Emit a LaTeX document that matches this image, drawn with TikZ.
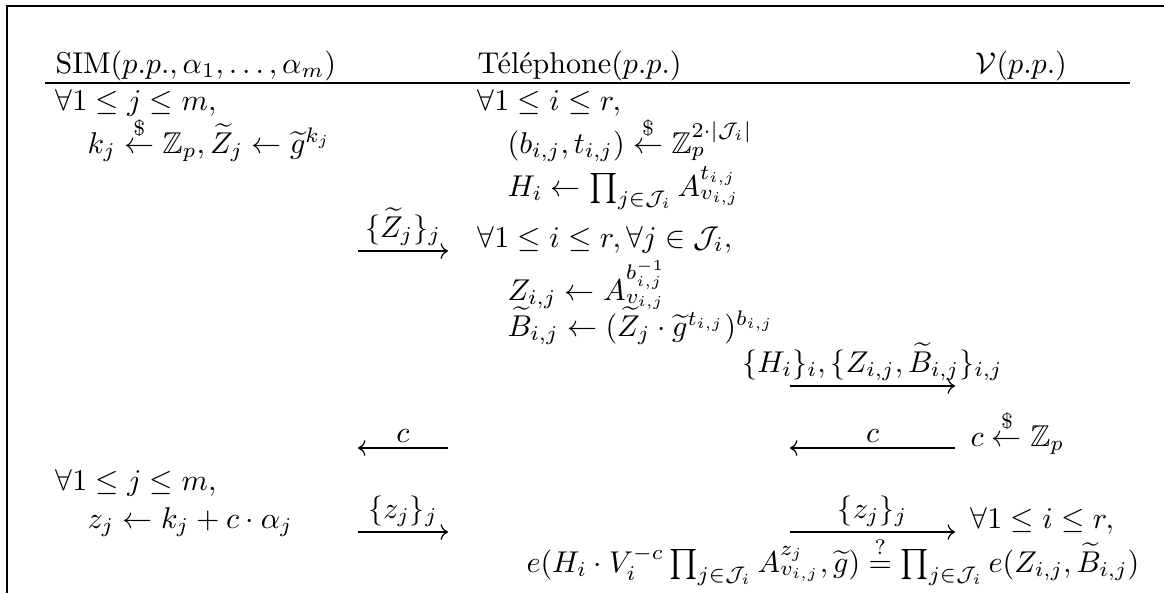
\documentclass[tikz,border=0pt]{standalone}
\usepackage{amsmath}
\usepackage{amssymb}
\usetikzlibrary{arrows.meta}

\tikzset{
    txt/.style={anchor=base west, inner sep=0pt},
    msg/.style={line width=0.4pt, arrows={-Computer Modern Rightarrow}},
    lbl/.style={above, inner sep=1.5pt},
}

\begin{document}
\begin{tikzpicture}[x=0.3325pt, y=-0.3325pt]
    \pgfmathsetmacro{\xs}{55}   % SIM column
    \pgfmathsetmacro{\xt}{477}  % phone column
    \pgfmathsetmacro{\xv}{970}  % verifier column
    \pgfmathsetmacro{\ind}{32}  % indent of the lines under a "for all"
    \useasboundingbox (0,0) rectangle (1164,593);

    % Frame and header rule
    \draw[line width=0.5pt] (7,593) -- (7,6) -- (1164,6);
    \draw[line width=0.4pt] (45,83) -- (1130,83);

    % Header
    \node[txt] (hsim) at ({\xs}, {73}) {$\mathrm{SIM}(p.p., \alpha_1, \ldots, \alpha_m)$};
    \node[txt] (htel) at ({\xt}, {73}) {Téléphone$(p.p.)$};
    \node[txt] (hver) at ({\xv+5}, {73}) {$\mathcal{V}(p.p.)$};

    % SIM
    \node[txt] (s1) at ({\xs}, {110}) {$\forall 1 \le j \le m,$};
    \node[txt] (s2) at ({\xs+\ind}, {153}) {$k_j \overset{\$}{\leftarrow} \mathbb{Z}_p, \widetilde{Z}_j \leftarrow \widetilde{g}^{k_j}$};
    \node[txt] (s3) at ({\xs}, {490}) {$\forall 1 \le j \le m,$};
    \node[txt] (s4) at ({\xs+\ind}, {528}) {$z_j \leftarrow k_j + c \cdot \alpha_j$};

    % Phone
    \node[txt] (t1) at ({\xt}, {110}) {$\forall 1 \le i \le r,$};
    \node[txt] (t2) at ({\xt+30}, {153}) {$(b_{i,j}, t_{i,j}) \overset{\$}{\leftarrow} \mathbb{Z}_p^{2\cdot|\mathcal{J}_i|}$};
    \node[txt] (t3) at ({\xt+30}, {196}) {$H_i \leftarrow \prod_{j\in\mathcal{J}_i} A_{v_{i,j}}^{t_{i,j}}$};
    \node[txt] (t4) at ({\xt}, {247}) {$\forall 1 \le i \le r, \forall j \in \mathcal{J}_i,$};
    \node[txt] (t5) at ({\xt+30}, {300}) {$Z_{i,j} \leftarrow A_{v_{i,j}}^{b_{i,j}^{-1}}$};
    \node[txt] (t6) at ({\xt+30}, {336}) {$\widetilde{B}_{i,j} \leftarrow (\widetilde{Z}_j \cdot \widetilde{g}^{t_{i,j}})^{b_{i,j}}$};

    % Verifier
    \node[txt] (v1) at ({\xv}, {446}) {$c \overset{\$}{\leftarrow} \mathbb{Z}_p$};
    \node[txt] (v2) at ({\xv}, {528}) {$\forall 1 \le i \le r,$};
    \node[anchor=base east, inner sep=0pt] (v3) at ({1140}, {572})
        {$e(H_i \cdot V_i^{-c} \prod_{j\in\mathcal{J}_i} A_{v_{i,j}}^{z_j}, \widetilde{g}) \stackrel{?}{=} \prod_{j\in\mathcal{J}_i} e(Z_{i,j}, \widetilde{B}_{i,j})$};

    % Messages
    \coordinate (a0) at (358,251);  \coordinate (a1) at (448,251);
    \coordinate (b0) at (790,386);  \coordinate (b1) at (955,386);
    \coordinate (c0) at (358,448);  \coordinate (c1) at (448,448);
    \coordinate (d0) at (790,448);  \coordinate (d1) at (955,448);
    \coordinate (e0) at (358,532);  \coordinate (e1) at (448,532);
    \coordinate (f0) at (790,532);  \coordinate (f1) at (955,532);
    \draw[msg] (a0) -- node[lbl] {$\{\widetilde{Z}_j\}_j$} (a1);
    \draw[msg] (b0) -- node[lbl] {$\{H_i\}_i, \{Z_{i,j}, \widetilde{B}_{i,j}\}_{i,j}$} (b1);
    \draw[msg] (c1) -- node[lbl] {$c$} (c0);
    \draw[msg] (d1) -- node[lbl] {$c$} (d0);
    \draw[msg] (e0) -- node[lbl] {$\{z_j\}_j$} (e1);
    \draw[msg] (f0) -- node[lbl] {$\{z_j\}_j$} (f1);
\end{tikzpicture}
\end{document}
